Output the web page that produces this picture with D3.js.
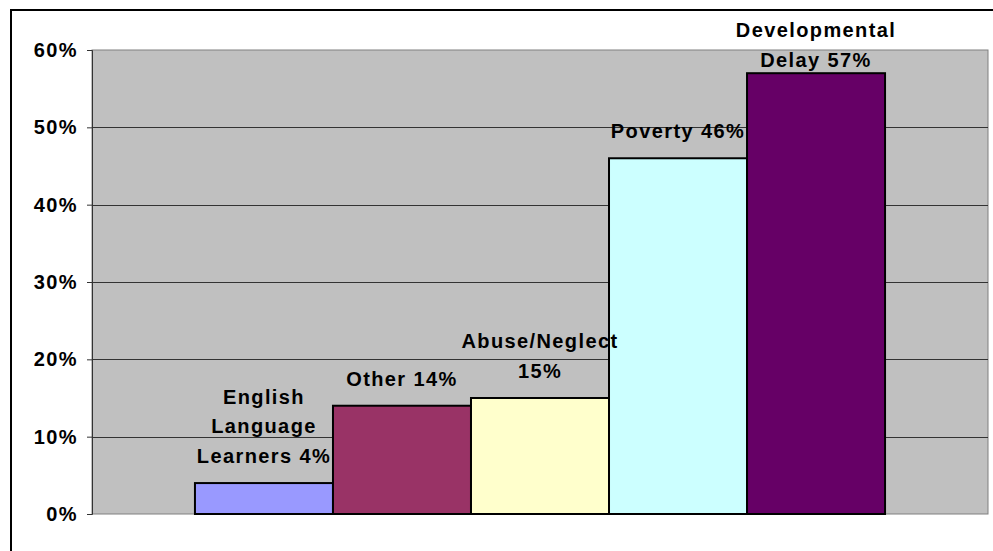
<!DOCTYPE html>
<html>
<head>
<meta charset="utf-8">
<script src="https://cdn.jsdelivr.net/npm/d3@7.9.0/dist/d3.min.js"></script>
<style>
  body { margin: 0; background: #fff; }
  svg { display: block; font-family: "Liberation Sans", Arial, sans-serif; }
</style>
</head>
<body>
<svg id="chart" width="993" height="551"></svg>
<script>
// ====== DATA ======
const categories = ['English Language Learners', 'Other', 'Abuse/Neglect', 'Poverty', 'Developmental Delay'];
const values = [4, 14, 15, 46, 57];
const labelLines = [
  ['English', 'Language', 'Learners 4%'],
  ['Other 14%'],
  ['Abuse/Neglect', '15%'],
  ['Poverty 46%'],
  ['Developmental', 'Delay 57%']
];
const barColors = ['#9999FF', '#993366', '#FFFFCC', '#CCFFFF', '#660066'];
const yTicks = [0, 10, 20, 30, 40, 50, 60];

// ====== LAYOUT ======
const svg = d3.select('#chart');
const plot = { left: 92, top: 50, right: 988, bottom: 514 };

// outer chart frame (runs off the right and bottom of the picture)
svg.append('rect')
  .attr('x', 11).attr('y', 10)
  .attr('width', 1100).attr('height', 700)
  .attr('fill', 'none')
  .attr('stroke', '#000')
  .attr('stroke-width', 2);

const x = d3.scaleBand()
  .domain(categories)
  .range([plot.left, plot.right])
  .paddingInner(0)
  .paddingOuter(0.746);

const y = d3.scaleLinear()
  .domain([0, 60])
  .range([plot.bottom, plot.top]);

// plot area
svg.append('rect')
  .attr('x', plot.left).attr('y', plot.top)
  .attr('width', plot.right - plot.left)
  .attr('height', plot.bottom - plot.top)
  .attr('fill', '#C0C0C0')
  .attr('stroke', '#808080')
  .attr('stroke-width', 1);

// gridlines
svg.append('g')
  .selectAll('line')
  .data(yTicks.filter(d => d > 0 && d < 60))
  .join('line')
  .attr('x1', plot.left).attr('x2', plot.right)
  .attr('y1', d => Math.round(y(d)) + 0.5)
  .attr('y2', d => Math.round(y(d)) + 0.5)
  .attr('stroke', '#333')
  .attr('stroke-width', 1);

// y axis
const yAxis = svg.append('g')
  .attr('transform', `translate(${plot.left},0)`)
  .call(d3.axisLeft(y).tickValues(yTicks).tickSize(5).tickPadding(9).tickFormat(d => d + '%'));
yAxis.select('.domain').attr('stroke', '#333');
yAxis.selectAll('.tick line').attr('stroke', '#333');
yAxis.selectAll('.tick text')
  .attr('fill', '#000')
  .attr('font-size', 20)
  .attr('font-weight', 'bold')
  .attr('letter-spacing', 1.4)
  .attr('font-family', '"Liberation Sans", Arial, sans-serif');

// bars
svg.append('g')
  .selectAll('rect')
  .data(values)
  .join('rect')
  .attr('x', (d, i) => x(categories[i]))
  .attr('y', d => y(d))
  .attr('width', x.bandwidth())
  .attr('height', d => y(0) - y(d))
  .attr('fill', (d, i) => barColors[i])
  .attr('stroke', '#000')
  .attr('stroke-width', 2);

// data labels
const lineGap = 29.7;
const topLimit = 37;
const labels = svg.append('g')
  .attr('font-size', 20)
  .attr('font-weight', 'bold')
  .attr('letter-spacing', 1.4)
  .attr('text-anchor', 'middle')
  .attr('fill', '#000');

values.forEach((v, i) => {
  const lines = labelLines[i];
  const lastBase = Math.max(y(v) - 20, topLimit + (lines.length - 1) * lineGap);
  const cx = x(categories[i]) + x.bandwidth() / 2;
  labels.selectAll(null)
    .data(lines)
    .enter()
    .append('text')
    .attr('x', cx)
    .attr('y', (d, j) => lastBase - (lines.length - 1 - j) * lineGap)
    .text(d => d);
});
</script>
</body>
</html>
